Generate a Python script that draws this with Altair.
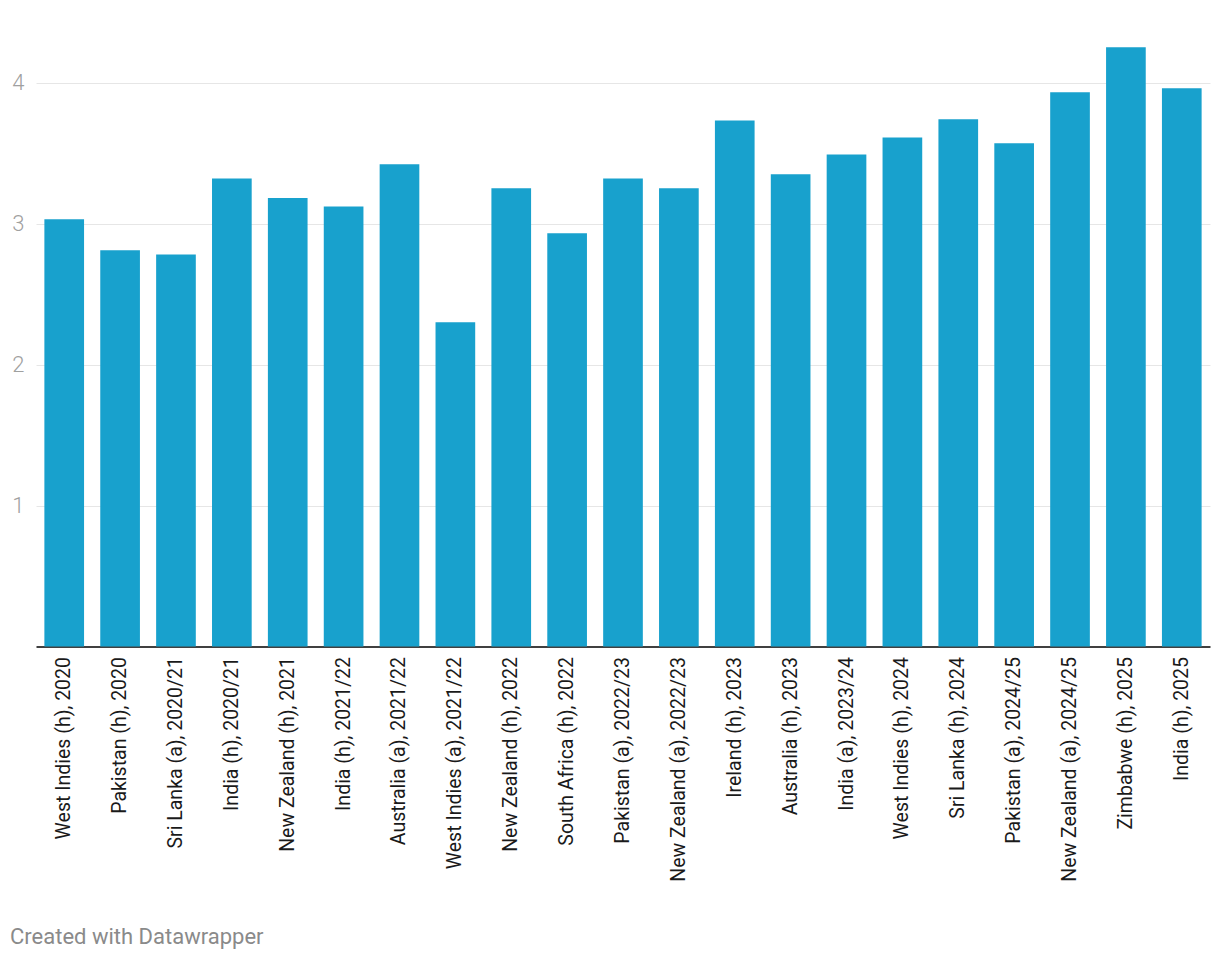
import altair as alt
import pandas as pd

categories = [
    "West Indies (h), 2020", "Pakistan (h), 2020", "Sri Lanka (a), 2020/21",
    "India (h), 2020/21", "New Zealand (h), 2021", "India (h), 2021/22",
    "Australia (a), 2021/22", "West Indies (a), 2021/22", "New Zealand (h), 2022",
    "South Africa (h), 2022", "Pakistan (a), 2022/23", "New Zealand (a), 2022/23",
    "Ireland (h), 2023", "Australia (h), 2023", "India (a), 2023/24",
    "West Indies (h), 2024", "Sri Lanka (h), 2024", "Pakistan (a), 2024/25",
    "New Zealand (a), 2024/25", "Zimbabwe (h), 2025", "India (h), 2025",
]
values = [3.03, 2.81, 2.78, 3.32, 3.18, 3.12, 3.42, 2.30, 3.25, 2.93, 3.32,
          3.25, 3.73, 3.35, 3.49, 3.61, 3.74, 3.57, 3.93, 4.25, 3.96]
y_ticks = [1, 2, 3, 4]
footer = "Created with Datawrapper"

df = pd.DataFrame({"cat": categories, "val": values})

bars = alt.Chart(df).mark_bar(color="#18a1cd").encode(
    x=alt.X("cat:N", sort=categories, title=None,
            scale=alt.Scale(paddingInner=0.29, paddingOuter=0.15),
            axis=alt.Axis(labelAngle=-90, labelFont="Roboto", labelFontSize=19.5,
                          labelColor="#1a1a1a", labelPadding=10, ticks=False,
                          domainColor="#000000", domainWidth=1.5, grid=False,
                          labelLimit=400)),
    y=alt.Y("val:Q", title=None,
            scale=alt.Scale(domain=[0, 4.5], nice=False),
            axis=alt.Axis(values=y_ticks, grid=True, gridColor="#e6e6e6",
                          gridWidth=1, domain=False, ticks=False,
                          labelFont="Roboto", labelFontSize=22, labelFontWeight=300,
                          labelColor="#a0a0a0", labelPadding=12, format="d")),
)

foot = alt.Chart(pd.DataFrame({"t": [footer]})).mark_text(
    align="left", baseline="middle", font="Roboto", fontSize=22, color="#8a8a8a"
).encode(text="t:N", x=alt.value(-26), y=alt.value(925))

chart = alt.layer(bars, foot).properties(
    width=1174, height=634.5,
    autosize=alt.AutoSizeParams(type="none"),
    padding={"left": 28, "top": 4, "right": 2, "bottom": 310},
).configure_view(stroke=None)

chart.save("out.html", embed_options={"renderer": "svg", "actions": False})
